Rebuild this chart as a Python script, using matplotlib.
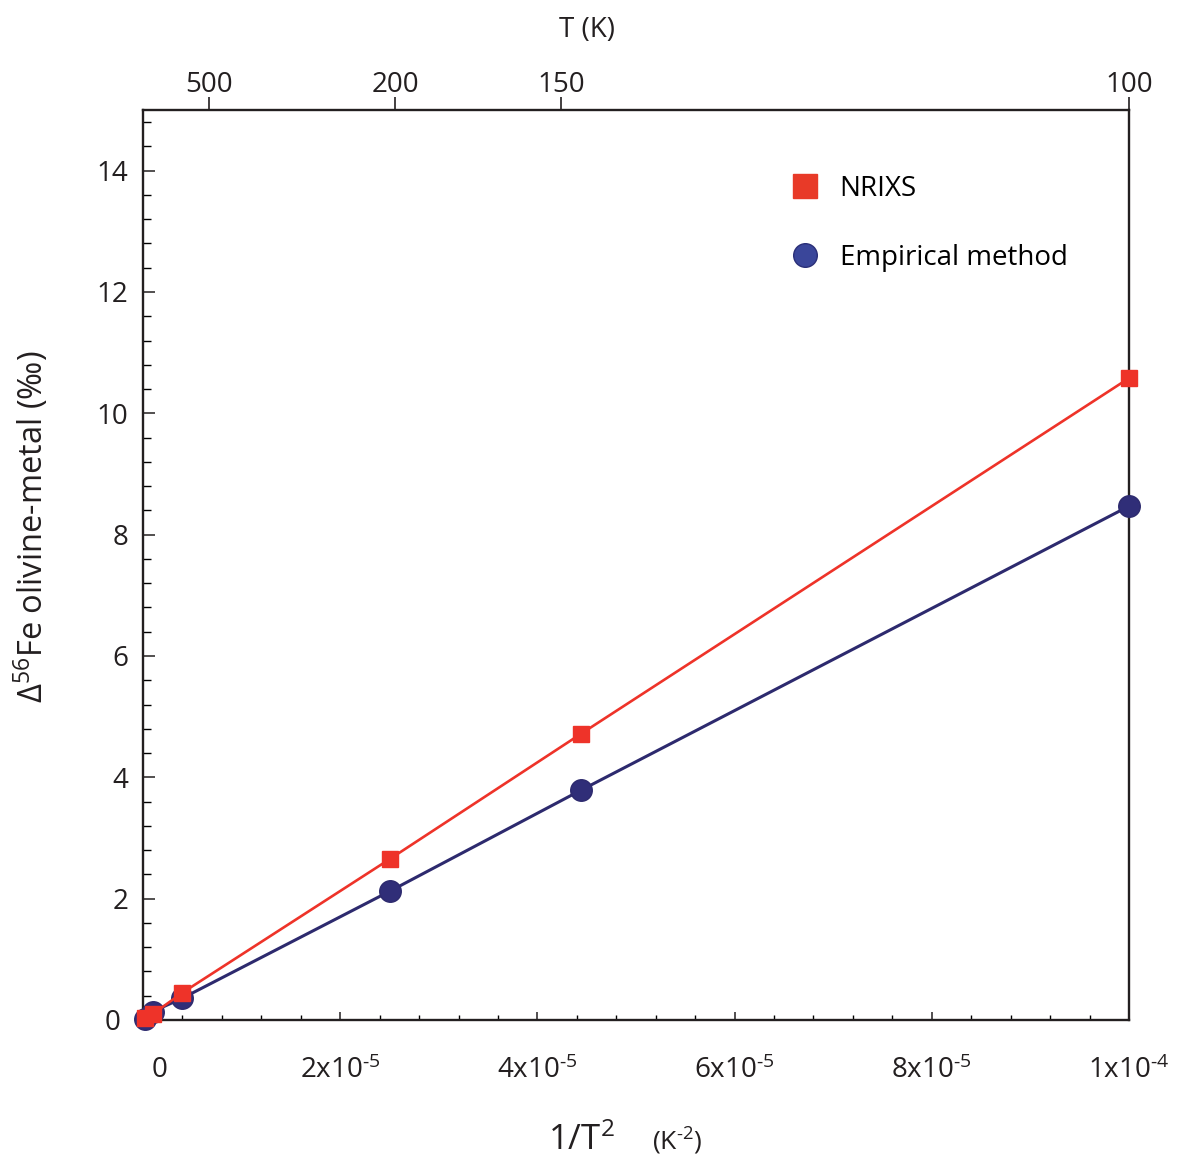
"""Delta56Fe olivine-metal vs 1/T^2: NRIXS and empirical method."""

import matplotlib

matplotlib.use("Agg")
import matplotlib.pyplot as plt  # noqa: E402
import numpy as np  # noqa: E402
from matplotlib.lines import Line2D  # noqa: E402
from matplotlib.transforms import ScaledTranslation  # noqa: E402

plt.rcParams["font.family"] = ["Open Sans", "DejaVu Sans"]
plt.rcParams["mathtext.fontset"] = "custom"
plt.rcParams["mathtext.rm"] = "Open Sans"
plt.rcParams["mathtext.default"] = "regular"

# temperatures of the computed points (K)
temperature_k = [2000, 1000, 500, 200, 150, 100]
nrixs = [0.03, 0.10, 0.45, 2.65, 4.72, 10.58]
empirical = [0.02, 0.14, 0.36, 2.12, 3.79, 8.47]

# top axis labels, placed where the original figure draws them
top_labels = ["500", "200", "150", "100"]
top_positions = [6.7e-6, 25.6e-6, 42.4e-6, 1.0e-4]

bottom_ticks = [0, 2e-5, 4e-5, 6e-5, 8e-5, 1e-4]
bottom_labels = ["0", "2x10$^{\u20105}$", "4x10$^{\u20105}$", "6x10$^{\u20105}$",
                 "8x10$^{\u20105}$", "1x10$^{\u20104}$"]

RED = "#ee3329"
NAVY = "#2d2a6e"
NAVY_FACE = "#302e78"
INK = "#231f20"

inv_t2 = 1.0 / np.asarray(temperature_k, dtype=float) ** 2

W, H = 1184, 1162
fig = plt.figure(figsize=(W / 100, H / 100), dpi=100)
ax = fig.add_axes([143 / W, 1 - 1020 / H, (1129 - 143) / W, (1020 - 110) / H])

ax.plot(inv_t2, empirical, color=NAVY, linewidth=2.2, marker="o", markersize=15.5,
        markerfacecolor=NAVY_FACE, markeredgecolor=NAVY, clip_on=False, zorder=3)
ax.plot(inv_t2, nrixs, color=RED, linewidth=1.9, marker="s", markersize=11.5,
        markerfacecolor=RED, markeredgecolor=RED, clip_on=False, zorder=4)

ax.set_xlim(0, 1e-4)
ax.set_ylim(0, 15)

ax.set_xticks(bottom_ticks, bottom_labels)
ax.set_xticks(np.arange(0, 1.0001e-4, 4e-6), minor=True)
ax.set_yticks(range(0, 15, 2))
ax.set_yticks(np.arange(0, 15.01, 0.4), minor=True)

ax.tick_params(axis="x", which="major", direction="in", length=5.8, width=1.1,
               labelsize=20, pad=26, colors=INK)
ax.tick_params(axis="x", which="minor", direction="in", length=3.6, width=1.0)
ax.tick_params(axis="y", which="major", direction="in", length=8.6, width=1.1,
               labelsize=20, pad=10.8, colors=INK)
ax.tick_params(axis="y", which="minor", direction="in", length=5.8, width=1.0)
ax.tick_params(top=False, right=False, which="both")

for spine in ax.spines.values():
    spine.set_linewidth(1.7)
    spine.set_color(INK)

# the original figure draws the "0" labels slightly off their ticks
lbl0 = ax.get_xticklabels()[0]
lbl0.set_transform(lbl0.get_transform() + ScaledTranslation(17 / 100, 0, fig.dpi_scale_trans))
ylbl0 = ax.get_yticklabels()[0]
ylbl0.set_transform(ylbl0.get_transform() + ScaledTranslation(-8 / 100, 0, fig.dpi_scale_trans))

top = ax.twiny()
top.set_xlim(ax.get_xlim())
top.set_xticks(top_positions, top_labels)
top.tick_params(axis="x", direction="out", length=9.4, width=1.2, labelsize=20,
                pad=-1.4, colors=INK)
for spine in top.spines.values():
    spine.set_visible(False)

fig.text(587 / W, 1 - 30 / H, "T (K)", ha="center", va="center", fontsize=20, color=INK)
fig.text(581 / W, 1 - 1141 / H, "1/T$^2$", ha="center", va="center", fontsize=25, color=INK)
fig.text(677 / W, 1 - 1141 / H, "(K$^{\u20102}$)", ha="center", va="center", fontsize=19,
         color=INK)
fig.text(31 / W, 1 - 527 / H, "Δ$^{56}$Fe olivine-metal (‰)", rotation=90, ha="center",
         va="center", fontsize=23.5, color=INK)

handles = [
    Line2D([], [], linestyle="none", marker="s", markersize=17, color="#e83a28"),
    Line2D([], [], linestyle="none", marker="o", markersize=17,
           markerfacecolor="#3a469a", markeredgecolor="#2a2f78"),
]
ax.legend(handles, ["NRIXS", "Empirical method"], loc="upper left",
          bbox_to_anchor=(791 / W, 1 - 175 / H), bbox_transform=fig.transFigure,
          frameon=False, fontsize=20, handlelength=1.0, handletextpad=0.75,
          labelspacing=1.47, borderpad=0, borderaxespad=0)

fig.savefig("out.png", dpi=100, facecolor="white")
